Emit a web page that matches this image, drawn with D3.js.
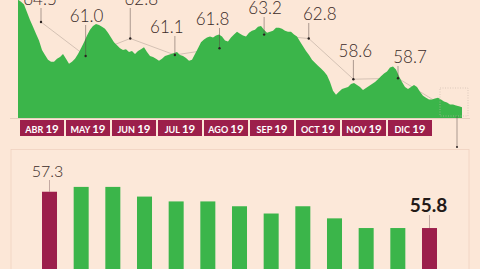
<!DOCTYPE html>
<html>
<head>
<meta charset="utf-8">
<script src="https://cdn.jsdelivr.net/npm/d3@7"></script>
<style>
  html, body { margin: 0; padding: 0; background: #fce7d7; }
  svg { display: block; }
</style>
</head>
<body>
<div id="chart"></div>
<script>
// Data
const months = ["ABR", "MAY", "JUN", "JUL", "AGO", "SEP", "OCT", "NOV", "DIC"];
const monthYear = "19";
const monthAvg = [64.5, 61.0, 62.8, 61.1, 61.8, 63.2, 62.8, 58.6, 58.7];
const lastValue = 55.8;

// daily series
const series = [
  66.8, 66.6, 66.3, 65.5, 64.7, 64.0, 63.3, 62.6, 61.6, 61.1, 60.6, 60.4, 60.4, 60.7, 60.9, 61.2,
  60.7, 60.2, 60.4, 60.7, 61.2, 61.8, 62.4, 63.1, 63.7, 64.1, 64.3, 64.2, 64.0, 63.8, 63.4, 62.9,
  62.4, 62.1, 61.8, 61.6, 61.7, 61.4, 61.5, 61.2, 61.5, 61.7, 61.9, 61.4, 61.0, 60.9, 60.7, 60.5,
  60.7, 61.0, 61.1, 61.2, 61.3, 61.4, 61.1, 61.0, 60.8, 60.5, 60.6, 61.2, 61.8, 62.4, 62.7, 62.9,
  63.0, 62.9, 63.1, 63.2, 63.0, 62.6, 62.5, 62.9, 63.2, 63.5, 63.3, 63.1, 63.0, 63.4, 63.6, 63.7,
  64.0, 64.1, 63.7, 63.4, 63.5, 63.6, 63.9, 63.9, 63.8, 63.6, 63.5, 63.5, 63.2, 63.0, 62.5, 62.0,
  61.5, 61.1, 60.6, 60.3, 60.0, 59.7, 59.4, 59.0, 58.3, 57.4, 57.0, 57.3, 57.6, 57.7, 57.8, 58.1,
  58.2, 58.0, 57.8, 57.5, 57.7, 57.9, 58.1, 58.3, 58.6, 58.9, 59.2, 59.4, 59.8, 59.9, 59.6, 58.9,
  58.3, 57.8, 57.6, 57.8, 58.0, 57.8, 57.3, 56.9, 56.7, 56.5, 56.5, 56.6, 56.7, 56.5, 56.3, 56.2,
  56.0, 56.0, 55.9, 55.8, 55.7
];

// bottom panel bars
const barValues = [57.3, 57.5, 57.5, 57.1, 56.9, 56.9, 56.7, 56.4, 56.7, 56.2, 55.8, 55.8, 55.8];
const barHighlight = [0, 12];

// label placement for monthly values (dx from dot, baseline y)
const labelPos = [[-1, 5], [1, 22], [11, 5], [-8, 33], [-7, 25], [1, 14], [11, 20], [2, 57], [12, 63]];

const width = 480, height = 269;
const green = "#3bb54a", crimson = "#9c1f4b", ink = "#3a2a27";

const svg = d3.select("#chart").append("svg")
  .attr("width", width)
  .attr("height", height);

svg.append("rect").attr("width", width).attr("height", height).attr("fill", "#fce7d7");

// Scales for the area chart
const x = d3.scaleLinear().domain([0, series.length - 1]).range([18, 462]);
const y = d3.scaleLinear().domain([54.6, 64.5]).range([118, 22]);
const xm = d3.scalePoint().domain(months).range([41, 398]);
const xb = d3.scaleBand().domain(months).range([20, 432]).paddingInner(0.0435).paddingOuter(0);

// thin line joining monthly averages (sits behind area)
const avgPts = months.map((m, i) => [xm(m), y(monthAvg[i])]);
avgPts.push([444, y(lastValue)]);
svg.append("path")
  .attr("d", d3.line()(avgPts))
  .attr("fill", "none")
  .attr("stroke", "#b9a79c")
  .attr("stroke-width", 0.6);

// area
svg.append("path")
  .datum(series)
  .attr("d", d3.area()
    .x((d, i) => x(i))
    .y0(y(54.6))
    .y1((d) => y(d)))
  .attr("fill", green);

// baseline
svg.append("line")
  .attr("x1", 10).attr("x2", 470)
  .attr("y1", 118.5).attr("y2", 118.5)
  .attr("stroke", "#dcc4b4").attr("stroke-width", 0.7);

// leader lines, dots and labels
const ann = svg.append("g");
months.forEach((m, i) => {
  const cx = xm(m), cy = y(monthAvg[i]);
  ann.append("line")
    .attr("x1", cx).attr("x2", cx)
    .attr("y1", labelPos[i][1] + 3).attr("y2", cy)
    .attr("stroke", "#5a4a46").attr("stroke-width", 0.5);
  ann.append("circle")
    .attr("cx", cx).attr("cy", cy).attr("r", 1.2)
    .attr("fill", "#2a2220");
  ann.append("text")
    .attr("x", cx + labelPos[i][0])
    .attr("y", labelPos[i][1])
    .attr("text-anchor", "middle")
    .attr("font-family", "Lato, 'Noto Sans', sans-serif")
    .attr("font-weight", 300)
    .attr("font-size", "17px")
    .attr("fill", ink)
    .text(monthAvg[i].toFixed(1));
});

// month boxes
const mb = svg.append("g").selectAll("g")
  .data(months)
  .enter()
  .append("g");
mb.append("rect")
  .attr("x", (d) => xb(d))
  .attr("y", 120)
  .attr("width", xb.bandwidth())
  .attr("height", 16)
  .attr("fill", crimson);
const mt = mb.append("text")
  .attr("x", (d) => xb(d) + xb.bandwidth() / 2)
  .attr("y", 132.5)
  .attr("text-anchor", "middle")
  .attr("font-family", "Lato, 'Noto Sans', sans-serif")
  .attr("font-weight", 700)
  .attr("fill", "#fff");
mt.append("tspan").attr("font-size", "9px").text((d) => d + " ");
mt.append("tspan").attr("font-size", "11.5px").text(monthYear);

// dotted box around the last stretch and its connector
svg.append("rect")
  .attr("x", 440).attr("y", 88).attr("width", 28).attr("height", 28)
  .attr("fill", "none")
  .attr("stroke", "#c8b6aa").attr("stroke-width", 0.6)
  .attr("stroke-dasharray", "1,1.5");
svg.append("line")
  .attr("x1", 457).attr("x2", 457).attr("y1", 116).attr("y2", 147)
  .attr("stroke", "#5a4a46").attr("stroke-width", 0.5);
svg.append("circle").attr("cx", 457).attr("cy", 147).attr("r", 1).attr("fill", "#2a2220");

// bottom panel
svg.append("rect")
  .attr("x", 11).attr("y", 149.5).attr("width", 458).attr("height", 140)
  .attr("fill", "#fce8d9")
  .attr("stroke", "#efd2c0").attr("stroke-width", 0.8);

const xBar = d3.scaleBand().domain(d3.range(barValues.length)).range([42, 437]).paddingInner(0.526).paddingOuter(0);
const yBar = d3.scaleLinear().domain([54, 58]).range([271.6, 174.8]);

svg.append("g").selectAll("rect")
  .data(barValues)
  .enter()
  .append("rect")
  .attr("x", (d, i) => xBar(i))
  .attr("y", (d) => yBar(d))
  .attr("width", xBar.bandwidth())
  .attr("height", (d) => yBar(54) - yBar(d))
  .attr("fill", (d, i) => barHighlight.includes(i) ? crimson : green);

// bar labels: first and last
barHighlight.forEach((i, k) => {
  const cx = xBar(i) + xBar.bandwidth() / 2;
  const last = k === 1;
  const ty = last ? 212 : 177;
  svg.append("line")
    .attr("x1", cx).attr("x2", cx)
    .attr("y1", ty + 3).attr("y2", yBar(barValues[i]))
    .attr("stroke", "#8a6a6a").attr("stroke-width", 0.5);
  svg.append("text")
    .attr("x", cx + (last ? -1 : -2))
    .attr("y", ty)
    .attr("text-anchor", "middle")
    .attr("font-family", "Lato, 'Noto Sans', sans-serif")
    .attr("font-weight", last ? 700 : 300)
    .attr("font-size", last ? "19px" : "16px")
    .attr("fill", last ? "#231a18" : ink)
    .text(barValues[i].toFixed(1));
});
</script>
</body>
</html>
